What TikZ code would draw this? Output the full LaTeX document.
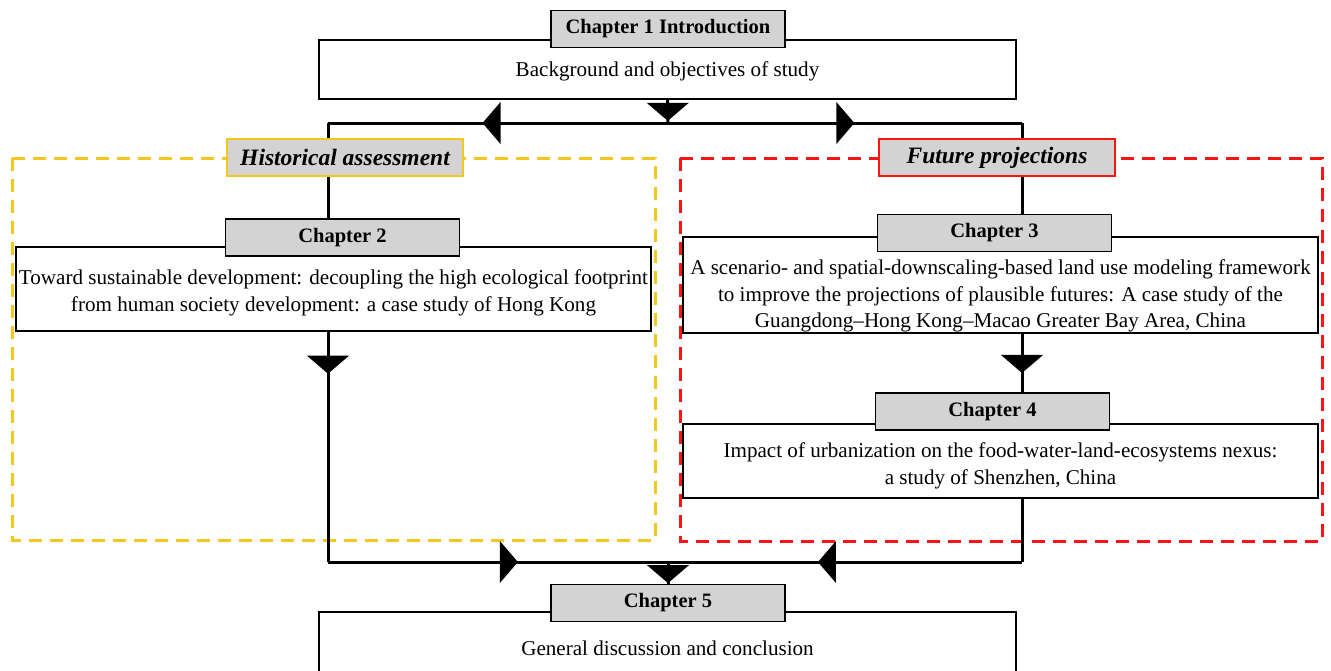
\documentclass[tikz,border=0pt]{standalone}
\usepackage{fontspec}
\setmainfont{Liberation Serif}
\usetikzlibrary{backgrounds}
\definecolor{chgray}{RGB}{211,211,211}
\definecolor{histyellow}{RGB}{242,200,30}
\definecolor{futred}{RGB}{250,20,20}
\begin{document}
\begin{tikzpicture}[x=1pt,y=1pt,
  bodybox/.style={draw, line width=1.6pt, fill=white, inner sep=0pt},
  bodytext/.style={inner sep=0pt, align=center, font=\fontsize{21.1}{26.5}\selectfont},
  chtitle/.style={draw, line width=1.6pt, fill=chgray, minimum width=234, minimum height=37,
    inner sep=0pt, font=\fontsize{20.5}{24}\selectfont\bfseries},
  grouplabel/.style={draw, line width=1.6pt, fill=chgray, minimum width=236, minimum height=37,
    inner sep=0pt, font=\fontsize{23.5}{26}\selectfont\bfseries\itshape},
  frame/.style={line width=3pt, dash pattern=on 13pt off 8pt},
  conn/.style={line width=3pt},
  tri/.pic={\fill (9,0) -- (-9,21) -- (-9,-21) -- cycle;}
]
\useasboundingbox (0,0) rectangle (1331,-670);

% chapter 1
\node[bodybox, minimum width=697, minimum height=59] (intro) at (667.5,-69.5) {};
\node[bodytext] (introtext) at ([yshift=-1.5pt]intro.center) {Background and objectives of study};
\node[chtitle] (t1) at (668,-29) {Chapter 1 Introduction};

% group labels
\node[grouplabel, draw=histyellow] (hist) at (345,-157.5) {Historical assessment};
\node[grouplabel, draw=futred] (fut) at (997,-157.5) {Future projections};

% chapter 2
\node[bodybox, minimum width=635, minimum height=84] (ch2) at (333.5,-289) {};
\node[bodytext] (ch2text) at ([yshift=-4pt]ch2.center) {Toward sustainable development: decoupling the high ecological footprint\\from human society development: a case study of Hong Kong};
\node[chtitle] (t2) at (342.5,-237.5) {Chapter 2};

% chapter 3
\node[bodybox, minimum width=635, minimum height=96] (ch3) at (1000.5,-285) {};
\node[bodytext] (ch3text) at ([yshift=-11pt]ch3.center) {A scenario- and spatial-downscaling-based land use modeling framework\\to improve the projections of plausible futures: A case study of the\\Guangdong--Hong Kong--Macao Greater Bay Area, China};
\node[chtitle] (t3) at (994.5,-233) {Chapter 3};

% chapter 4
\node[bodybox, minimum width=635, minimum height=74] (ch4) at (1000.5,-461) {};
\node[bodytext] (ch4text) at ([yshift=-5pt]ch4.center) {Impact of urbanization on the food-water-land-ecosystems nexus:\\a study of Shenzhen, China};
\node[chtitle] (t4) at (992.5,-411.5) {Chapter 4};

% chapter 5
\node[bodybox, minimum width=697, minimum height=72] (ch5) at (667.5,-648) {};
\node[bodytext] (ch5text) at (ch5.center) {General discussion and conclusion};
\node[chtitle] (t5) at (668,-603) {Chapter 5};

% junction points of the flow lines
\coordinate (jt) at (668,-123);
\coordinate (jl) at (328,-123);
\coordinate (jr) at (1022,-123);
\coordinate (bl) at (328,-562);
\coordinate (br) at (1022,-562);
\coordinate (bc) at (668,-562);

\begin{scope}[on background layer]
  % dashed group frames
  \draw[frame, histyellow] (12,-158) rectangle (655,-540);
  \draw[frame, futred] (680,-158) rectangle (1322,-541);
  % flow lines
  \draw[conn] (intro.south) -- pic[pos=0.52, rotate=-90]{tri} (jt);
  \draw[conn] (jt) -- pic[pos=0.519, rotate=180]{tri} (jl);
  \draw[conn] (jt) -- pic[pos=0.501]{tri} (jr);
  \draw[conn] (jl) -- (jl |- t2.north);
  \draw[conn] (jr) -- (jr |- t3.north);
  \draw[conn] (jl |- ch2.south) -- pic[pos=0.143, rotate=-90]{tri} (bl);
  \draw[conn] (jr |- ch3.south) -- pic[pos=0.517, rotate=-90]{tri} (jr |- t4.north);
  \draw[conn] (jr |- ch4.south) -- (br);
  \draw[conn] (bl) -- pic[pos=0.532]{tri} (bc);
  \draw[conn] (br) -- pic[pos=0.551, rotate=180]{tri} (bc);
  \draw[conn] (bc) -- pic[pos=0.56, rotate=-90]{tri} (t5.north);
\end{scope}
\end{tikzpicture}
\end{document}
